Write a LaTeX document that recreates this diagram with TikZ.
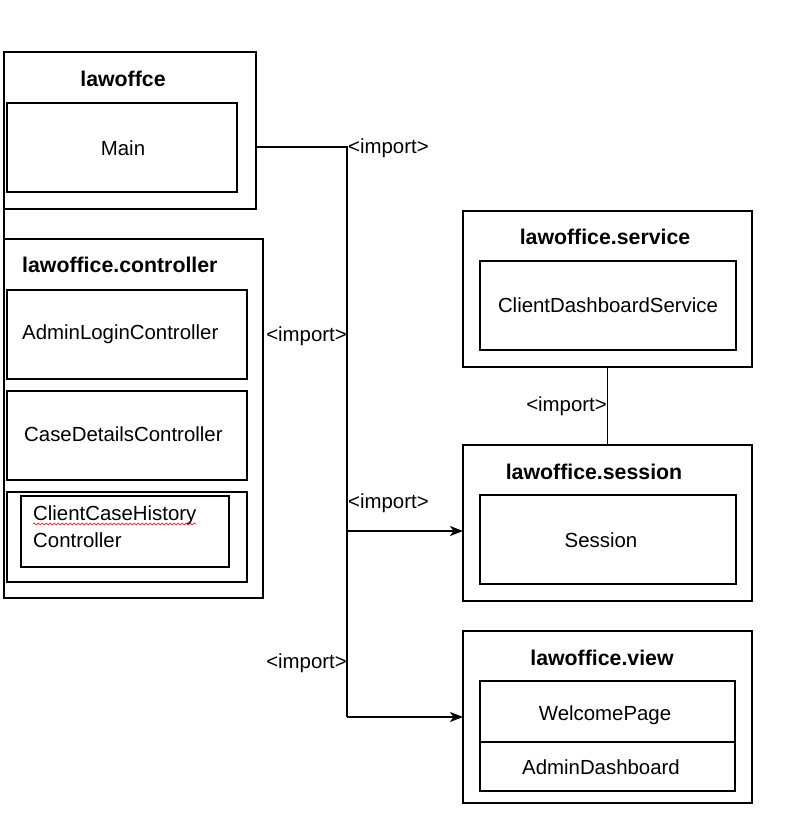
\documentclass[tikz,border=0pt]{standalone}
\usepackage{fontspec}
\setmainfont{Liberation Sans}
\usetikzlibrary{arrows.meta,decorations.pathmorphing}
\begin{document}
\begin{tikzpicture}[x=1pt,y=-1pt,
  box/.style={draw,line width=1.4pt,inner sep=0pt,outer sep=0pt,anchor=north west},
  lbl/.style={inner sep=0pt,font=\fontsize{20.4}{24}\selectfont},
  ttl/.style={inner sep=0pt,font=\fontsize{21.3}{25}\selectfont\bfseries},
  conn/.style={line width=1.4pt},
  arr/.style={conn,-{Stealth[length=13pt,width=10pt,inset=3.5pt]}}]
\useasboundingbox (0,0) rectangle (784,834);
% lawoffce package
\node[box,minimum width=252pt,minimum height=157pt] (pkgA) at (4,52) {};
\node[box,minimum width=230pt,minimum height=89pt] (mainbox) at (7,103) {};
\node[ttl] (tA) at (123,79) {lawoffce};
\node[lbl] (tMain) at (123,148) {Main};
% controller package
\node[box,minimum width=259pt,minimum height=359pt] (pkgC) at (4,239) {};
\draw[conn] (pkgA.south west) -- (pkgC.north west);
\node[ttl,anchor=west] (tC) at (22,265) {lawoffice.controller};
\node[box,minimum width=240pt,minimum height=89pt] (c1) at (7,290) {};
\node[lbl,anchor=west] (tc1) at (22,334) {AdminLoginController};
\node[box,minimum width=240pt,minimum height=89pt] (c2) at (7,391) {};
\node[lbl,anchor=west] (tc2) at (24,434) {CaseDetailsController};
\node[box,minimum width=240pt,minimum height=90pt] (c3) at (7,492) {};
\node[draw,line width=1.2pt,inner sep=0pt,outer sep=0pt,anchor=north west,minimum width=208pt,minimum height=71pt] (c3in) at (21,496) {};
\node[lbl,anchor=west] (tc3a) at (33,515) {ClientCaseHistory};
\node[lbl,anchor=west] (tc3b) at (33,540) {Controller};
\coordinate (w1) at (33,524);
\coordinate (w2) at (196,524);
\draw[red,line width=0.6pt,decorate,decoration={snake,amplitude=1pt,segment length=4pt}] (w1) -- (w2);
% service package
\node[box,minimum width=289pt,minimum height=156pt] (service) at (463,211) {};
\node[ttl] (tS) at (605,237) {lawoffice.service};
\node[box,minimum width=256pt,minimum height=89pt] (svcin) at (480,261) {};
\node[lbl] (tsvc) at (608,305) {ClientDashboardService};
% session package
\node[box,minimum width=289pt,minimum height=156pt] (session) at (463,445) {};
\node[ttl] (tSe) at (594,472) {lawoffice.session};
\node[box,minimum width=256pt,minimum height=89pt] (sesin) at (480,495) {};
\node[lbl] (tses) at (601,540) {Session};
% view package
\node[box,minimum width=289pt,minimum height=172pt] (view) at (463,631) {};
\node[ttl] (tV) at (602,658) {lawoffice.view};
\node[box,minimum width=255pt,minimum height=61pt] (v1) at (480,681) {};
\node[box,minimum width=255pt,minimum height=49pt] (v2) at (480,742) {};
\node[lbl] (tv1) at (605,715) {WelcomePage};
\node[lbl] (tv2) at (601,767) {AdminDashboard};
% connectors
\coordinate (j1) at (347,147);
\coordinate (j3) at (347,531);
\coordinate (j2) at (347,717);
\draw[conn] (pkgA.east |- j1) -- (j1) -- (j2);
\draw[arr] (j3) -- (session.west |- j3);
\draw[arr] (j2) -- (view.west |- j2);
\draw[conn] (service.south) -- (session.north);
% labels
\node[lbl,anchor=west] (i1) at (348,148) {<import>};
\node[lbl,anchor=east] (i2) at (347,336) {<import>};
\node[lbl,anchor=west] (i3) at (348,503) {<import>};
\node[lbl,anchor=east] (i4) at (347,663) {<import>};
\node[lbl,anchor=east] (i5) at (607,406) {<import>};
\end{tikzpicture}
\end{document}
